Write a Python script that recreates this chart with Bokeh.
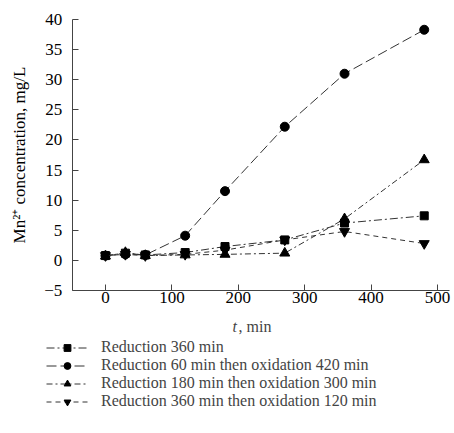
from bokeh.plotting import figure
from bokeh.models import Legend, LegendItem, Label, Range1d, FixedTicker, LinearAxis
from bokeh.embed import file_html
from bokeh.resources import INLINE

t = [0, 30, 60, 120, 180, 270, 360, 480]
red360 = [0.8, 1.2, 0.9, 1.3, 2.3, 3.4, 6.2, 7.4]
red60_ox420 = [0.8, 1.0, 0.9, 4.1, 11.5, 22.2, 31.0, 38.3]
red180_ox300 = [0.7, 1.3, 0.8, 0.9, 1.0, 1.2, 6.9, 16.7]
red360_ox120 = [0.8, 1.0, 0.8, 1.0, 1.7, 3.4, 4.8, 2.8]

labels = ["Reduction 360 min",
          "Reduction 60 min then oxidation 420 min",
          "Reduction 180 min then oxidation 300 min",
          "Reduction 360 min then oxidation 120 min"]
xticks = [0, 100, 200, 300, 400, 500]
yticks = [-5, 0, 5, 10, 15, 20, 25, 30, 35, 40]

FONT = "Liberation Serif"

p = figure(width=454, height=433, output_backend="svg", toolbar_location=None,
           x_range=Range1d(-158.1, 525.6), y_range=Range1d(-28.75, 43.16),
           x_axis_location=None, y_axis_location=None,
           min_border=0, min_border_left=0, min_border_right=0,
           min_border_top=0, min_border_bottom=0)
p.outline_line_color = None
p.grid.visible = False

xax = LinearAxis(fixed_location=-5, bounds=(-50, 518), ticker=FixedTicker(ticks=xticks))
yax = LinearAxis(fixed_location=-50, bounds=(-5, 40), ticker=FixedTicker(ticks=yticks))
for ax in (xax, yax):
    ax.axis_line_color = "#444444"
    ax.axis_line_width = 1
    ax.major_tick_line_color = "#444444"
    ax.major_tick_in = 6
    ax.major_tick_out = 0
    ax.minor_tick_line_color = None
    ax.major_label_text_font = FONT
    ax.major_label_text_font_size = "17px"
    ax.major_label_text_color = "black"
xax.major_label_standoff = 2
yax.major_label_standoff = 10
yax.axis_label = "Mn\u00b2\u207a concentration, mg/L"
yax.axis_label_text_font = FONT
yax.axis_label_text_font_size = "17px"
yax.axis_label_text_font_style = "normal"
yax.axis_label_text_color = "black"
yax.axis_label_standoff = 12
p.add_layout(xax, "below")
p.add_layout(yax, "left")

dashes = ["8 3 2 3", "10 4", "6 3 2 3", "5 4"]
markers = ["square", "circle", "triangle", "inverted_triangle"]
sizes = [8, 9, 10, 10]
series = [red360, red60_ox420, red180_ox300, red360_ox120]

items = []
for ys, d, m, s, lab in zip(series, dashes, markers, sizes, labels):
    ln = p.line(t, ys, line_color="#333333", line_width=1, line_dash=d)
    sc = p.scatter(t, ys, marker=m, size=s, fill_color="black", line_color="black")
    items.append(LegendItem(label=lab, renderers=[ln, sc]))

leg = Legend(items=items, orientation="vertical", location=(46, 23),
             label_text_font=FONT, label_text_font_size="16px",
             label_text_line_height=1.0,
             label_height=17, glyph_height=17, glyph_width=42,
             spacing=0, padding=0, margin=0, label_standoff=13,
             border_line_color=None, background_fill_alpha=0)
p.add_layout(leg, "center")

p.add_layout(Label(x=232, y=107, x_units="screen", y_units="screen", text="t",
                   text_baseline="middle",
                   text_font=FONT, text_font_size="16px", text_font_style="italic"))
p.add_layout(Label(x=238, y=107, x_units="screen", y_units="screen", text=", min",
                   text_baseline="middle", text_font=FONT, text_font_size="16px"))

open("out.html", "w").write(file_html(p, INLINE))
